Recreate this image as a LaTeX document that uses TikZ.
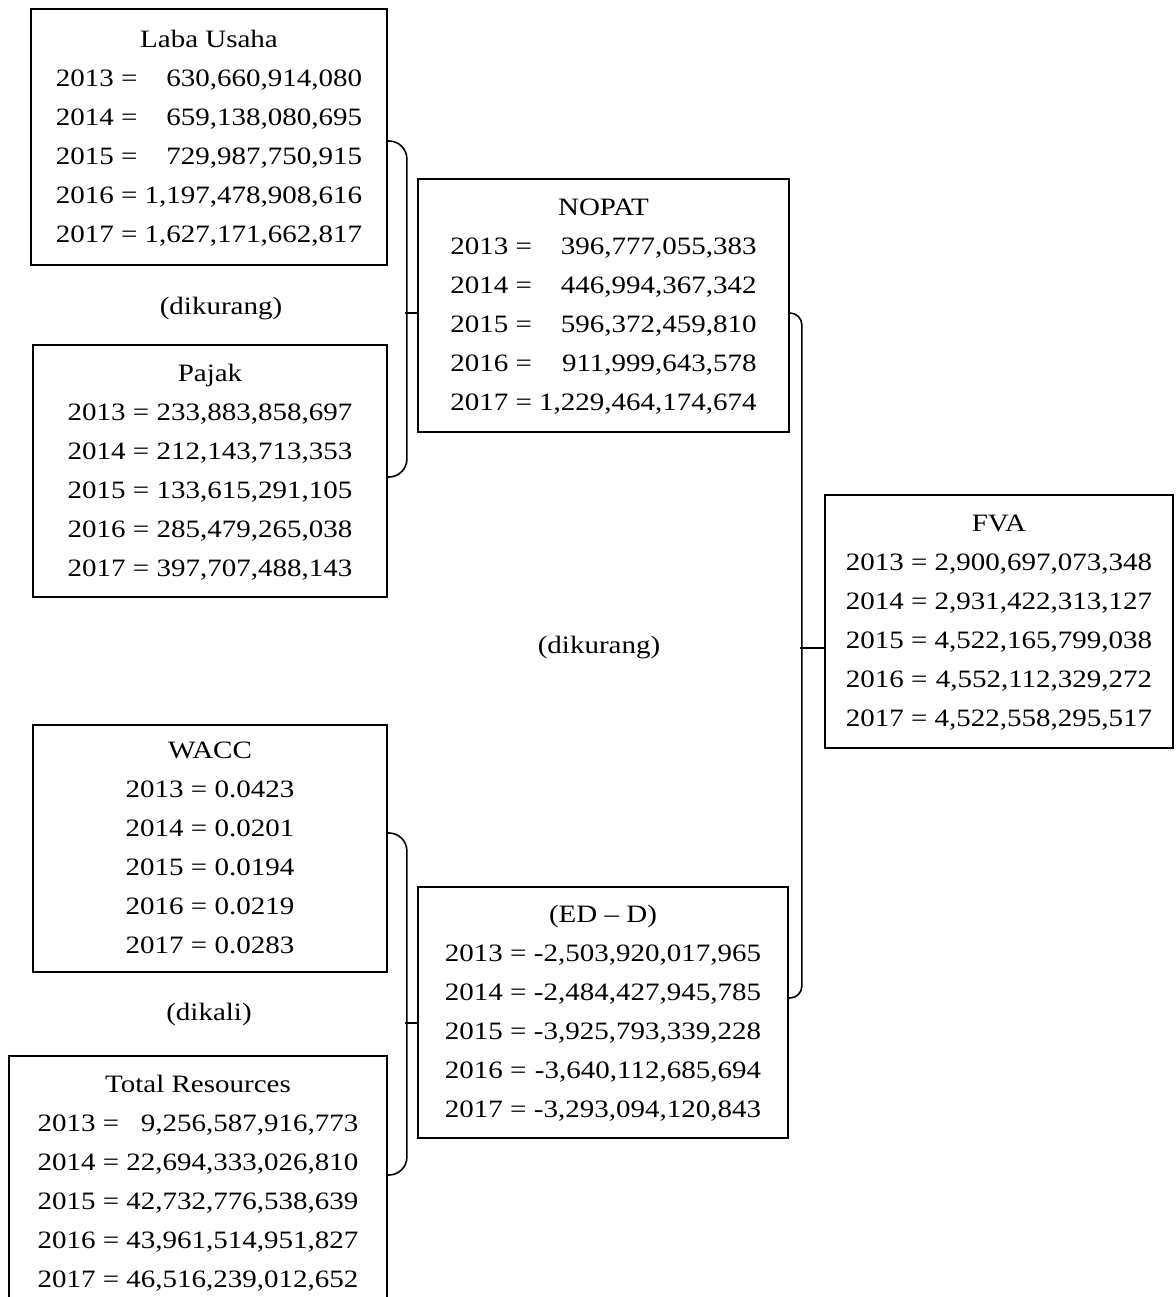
\documentclass[tikz,border=0pt]{standalone}
\usepackage{fontspec}
\usepackage{graphicx}
\setmainfont{Liberation Serif}
\newcommand{\yeartab}[1]{\scalebox{1.16}[1]{\begin{tabular}{@{}l@{\ }r@{}}#1\end{tabular}}}
\newcommand{\wide}[1]{\scalebox{1.16}[1]{#1}}
\tikzset{
  databox/.style={draw,line width=0.9pt,inner sep=2pt,
    font=\fontsize{12.5pt}{19.5pt}\selectfont},
  opnote/.style={font=\fontsize{12.5pt}{19.5pt}\selectfont},
  brace/.style={line width=0.8pt,rounded corners=9pt}
}
\begin{document}
\begin{tikzpicture}[x=0.5pt,y=-0.5pt]
\useasboundingbox (0,0) rectangle (1175,1297);
\clip (0,0) rectangle (1175,1297);

\node[databox,minimum width=178pt,minimum height=128pt] (laba) at (209,137) {\yeartab{%
  \multicolumn{2}{c}{Laba Usaha}\\
  2013 = & 630,660,914,080\\
  2014 = & 659,138,080,695\\
  2015 = & 729,987,750,915\\
  2016 = & 1,197,478,908,616\\
  2017 = & 1,627,171,662,817}};
\node[databox,minimum width=177pt,minimum height=126pt] (pajak) at (210,471) {\yeartab{%
  \multicolumn{2}{c}{Pajak}\\
  2013 = & 233,883,858,697\\
  2014 = & 212,143,713,353\\
  2015 = & 133,615,291,105\\
  2016 = & 285,479,265,038\\
  2017 = & 397,707,488,143}};
\node[databox,minimum width=185.5pt,minimum height=126.5pt] (nopat) at (603.5,305.5) {\yeartab{%
  \multicolumn{2}{c}{NOPAT}\\
  2013 = & 396,777,055,383\\
  2014 = & 446,994,367,342\\
  2015 = & 596,372,459,810\\
  2016 = & 911,999,643,578\\
  2017 = & 1,229,464,174,674}};
\node[databox,minimum width=174pt,minimum height=126.5pt] (fva) at (999,621.5) {\yeartab{%
  \multicolumn{2}{c}{FVA}\\
  2013 = & 2,900,697,073,348\\
  2014 = & 2,931,422,313,127\\
  2015 = & 4,522,165,799,038\\
  2016 = & 4,552,112,329,272\\
  2017 = & 4,522,558,295,517}};
\node[databox,minimum width=177pt,minimum height=123.5pt] (wacc) at (210,848.5) {\yeartab{%
  \multicolumn{2}{c}{WACC}\\
  2013 = & 0.0423\\
  2014 = & 0.0201\\
  2015 = & 0.0194\\
  2016 = & 0.0219\\
  2017 = & 0.0283}};
\node[databox,minimum width=185pt,minimum height=125.5pt] (edd) at (603,1012.5) {\yeartab{%
  \multicolumn{2}{c}{(ED -- D)}\\
  2013 = & -2,503,920,017,965\\
  2014 = & -2,484,427,945,785\\
  2015 = & -3,925,793,339,228\\
  2016 = & -3,640,112,685,694\\
  2017 = & -3,293,094,120,843}};
\node[databox,minimum width=189pt,minimum height=126pt] (total) at (198,1182) {\yeartab{%
  \multicolumn{2}{c}{Total Resources}\\
  2013 = & 9,256,587,916,773\\
  2014 = & 22,694,333,026,810\\
  2015 = & 42,732,776,538,639\\
  2016 = & 43,961,514,951,827\\
  2017 = & 46,516,239,012,652}};

% operations
\node[opnote] (minus1) at (221,309) {\wide{(dikurang)}};
\node[opnote] (minus2) at (599,648) {\wide{(dikurang)}};
\node[opnote] (times) at (209,1014) {\wide{(dikali)}};

% brackets
\draw[brace] ([yshift=-2pt]laba.east) -- ++(19,0) |- ([yshift=-3pt]pajak.east);
\draw[brace] ([yshift=-3.75pt]nopat.west) -- ++(-12,0);
\draw[brace,rounded corners=6pt] ([yshift=-3.75pt]nopat.east) -- ++(12,0) |- ([yshift=7.25pt]edd.east);
\draw[brace] ([yshift=-13.25pt]fva.west) -- ++(-24,0);
\draw[brace] ([yshift=7.75pt]wacc.east) -- ++(19,0) |- ([yshift=3.5pt]total.east);
\draw[brace] ([yshift=-5.25pt]edd.west) -- ++(-12,0);
\end{tikzpicture}
\end{document}
